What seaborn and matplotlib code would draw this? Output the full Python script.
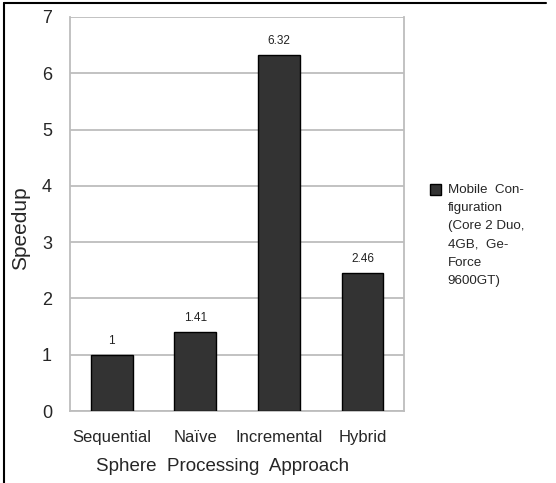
import matplotlib
matplotlib.use("Agg")
import matplotlib.pyplot as plt
import seaborn as sns
from matplotlib.lines import Line2D

approaches = ["Sequential", "Naïve", "Incremental", "Hybrid"]
speedups = [1, 1.41, 6.32, 2.46]
value_labels = ["1", "1.41", "6.32", "2.46"]
series_name = "Mobile  Con-\nfiguration\n(Core 2 Duo,\n4GB,  Ge-\nForce\n9600GT)"

sns.set_style("white")
plt.rcParams['font.family'] = ['Liberation Sans', 'DejaVu Sans']

grey = "#bdbdbd"
fig = plt.figure(figsize=(5.56, 4.83), dpi=100)
ax = fig.add_axes([0.126, 0.149, 0.601, 0.816])

sns.barplot(x=approaches, y=speedups, color="#333333", width=0.5,
            edgecolor="black", linewidth=1, saturation=1,
            label=series_name, ax=ax, zorder=3)

# value labels above bars
for i, (v, t) in enumerate(zip(speedups, value_labels)):
    ax.text(i, v + 0.14, t, ha="center", va="bottom", fontsize=8.5, color="#222222")

ax.set_xlim(-0.5, 3.5)
ax.set_ylim(0, 7)
ax.set_yticks(range(0, 8))
ax.yaxis.grid(True, color=grey, linewidth=1.3, zorder=0)
ax.set_axisbelow(True)

for side in ["left", "right", "bottom"]:
    ax.spines[side].set_color(grey)
    ax.spines[side].set_linewidth(1.3)
ax.spines["top"].set_visible(False)

ax.tick_params(axis="y", length=8, color=grey, width=1.3, labelsize=13, pad=5)
ax.tick_params(axis="x", which="major", length=0, labelsize=12, pad=14)
ax.set_xticks([-0.5, 0.5, 1.5, 2.5, 3.5], minor=True)
ax.tick_params(axis="x", which="minor", length=8, color=grey, width=1.3)

ax.set_xlabel("Sphere  Processing  Approach", fontsize=13.5)
ax.set_ylabel("Speedup", fontsize=15)
ax.xaxis.set_label_coords(0.455, -0.12)
ax.yaxis.set_label_coords(-0.12, 0.464)

leg = ax.legend(loc="upper left", bbox_to_anchor=(1.06, 0.59), frameon=False,
                fontsize=9.6, handlelength=0.85, handleheight=0.95,
                handletextpad=0.5, borderaxespad=0)
for t in leg.get_texts():
    t.set_linespacing(1.7)
# put the swatch beside the first line of the label
for col in leg._legend_handle_box.get_children():
    for item in col.get_children():
        item.align = "top"

# outer frame lines (top and left)
fig.add_artist(Line2D([4 / 556, 546 / 556], [1 - 2.5 / 483, 1 - 2.5 / 483],
                      color="black", linewidth=1.5, transform=fig.transFigure))
fig.add_artist(Line2D([4 / 556, 4 / 556], [0, 1 - 2.5 / 483],
                      color="black", linewidth=1.5, transform=fig.transFigure))

fig.savefig("out.png", dpi=100)
